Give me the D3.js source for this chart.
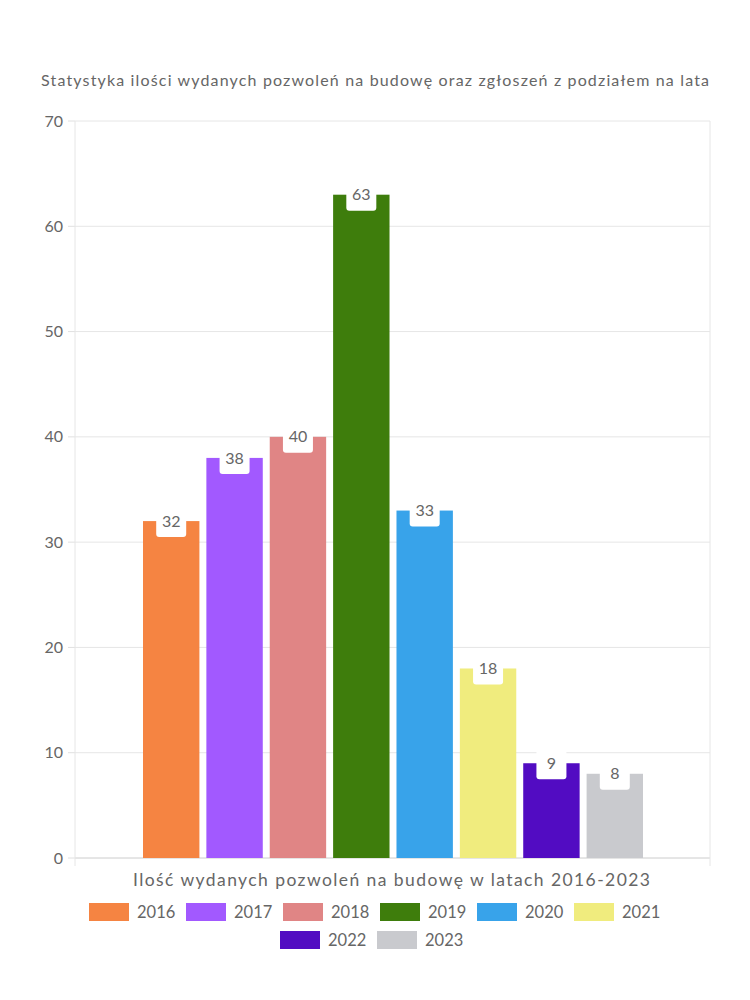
<!DOCTYPE html>
<html><head><meta charset="utf-8">
<script src="https://cdn.jsdelivr.net/npm/d3@7"></script>
<style>body{margin:0;background:#fff}svg{display:block}text{font-family:Lato,"Noto Sans",sans-serif;fill:#666}</style>
</head><body><svg id="c" width="750" height="1000"></svg>
<script>
const years = ["2016","2017","2018","2019","2020","2021","2022","2023"];
const values = [32,38,40,63,33,18,9,8];
const colors = ["#F58442","#A259FF","#E08585","#3E7D0C","#38A3EA","#F0EC7E","#520CC2","#C9CACE"];
const yTicks = [0,10,20,30,40,50,60,70];
const title = "Statystyka ilości wydanych pozwoleń na budowę oraz zgłoszeń z podziałem na lata";
const xTitle = "Ilość wydanych pozwoleń na budowę w latach 2016-2023";

const svg = d3.select("#c");
const L=75,R=710,T=121,B=858;
const y = d3.scaleLinear().domain([0,70]).range([B,T]);
const x = d3.scaleBand().domain(years).range([143,643]).paddingInner(0.11);

svg.append("text").attr("x",375).attr("y",86).attr("text-anchor","middle").attr("font-size",16)
 .attr("textLength",668).attr("lengthAdjust","spacing").text(title);

// grid
svg.append("g").selectAll("line").data(yTicks).join("line")
 .attr("x1",L).attr("x2",R).attr("y1",d=>y(d)).attr("y2",d=>y(d))
 .attr("stroke",d=>d===0?"#ccc":"#e6e6e6");
svg.append("g").selectAll("line").data(yTicks).join("line")
 .attr("x1",L-7).attr("x2",L).attr("y1",d=>y(d)).attr("y2",d=>y(d)).attr("stroke","#e0e0e0");
svg.append("line").attr("x1",L).attr("x2",L).attr("y1",T).attr("y2",B+8).attr("stroke","#e6e6e6");
svg.append("line").attr("x1",R).attr("x2",R).attr("y1",T).attr("y2",B+8).attr("stroke","#e6e6e6");
svg.append("g").selectAll("text").data(yTicks).join("text")
 .attr("x",63).attr("y",d=>y(d)).attr("dy","0.35em").attr("text-anchor","end").attr("font-size",16).text(d=>d);

// bars
svg.append("g").selectAll("rect").data(years).join("rect")
 .attr("x",d=>x(d)).attr("width",x.bandwidth())
 .attr("y",(d,i)=>y(values[i])).attr("height",(d,i)=>B-y(values[i]))
 .attr("fill",(d,i)=>colors[i]);
// labels
const lg = svg.append("g");
lg.selectAll("rect").data(years).join("rect")
 .attr("x",d=>x(d)+x.bandwidth()/2-15).attr("width",30)
 .attr("y",(d,i)=>y(values[i])-15).attr("height",31).attr("rx",3).attr("fill","#fff");
lg.selectAll("text").data(years).join("text")
 .attr("x",d=>x(d)+x.bandwidth()/2).attr("y",(d,i)=>y(values[i])).attr("dy","0.35em")
 .attr("text-anchor","middle").attr("font-size",16).text((d,i)=>values[i]);

svg.append("text").attr("x",391.5).attr("y",886).attr("text-anchor","middle").attr("font-size",17.5)
 .attr("textLength",517).attr("lengthAdjust","spacing").text(xTitle);

// legend
const row1 = years.slice(0,6), row2 = years.slice(6);
function legendRow(items, startX, cy){
  const g = svg.append("g");
  items.forEach((d,j)=>{
    const i = years.indexOf(d);
    const x0 = startX + j*97;
    g.append("rect").attr("x",x0).attr("y",cy-9).attr("width",40).attr("height",18).attr("fill",colors[i]);
    g.append("text").attr("x",x0+48).attr("y",cy).attr("dy","0.35em").attr("font-size",16.5).text(d);
  });
}
legendRow(row1,89,912);
legendRow(row2,280,940);
</script></body></html>
